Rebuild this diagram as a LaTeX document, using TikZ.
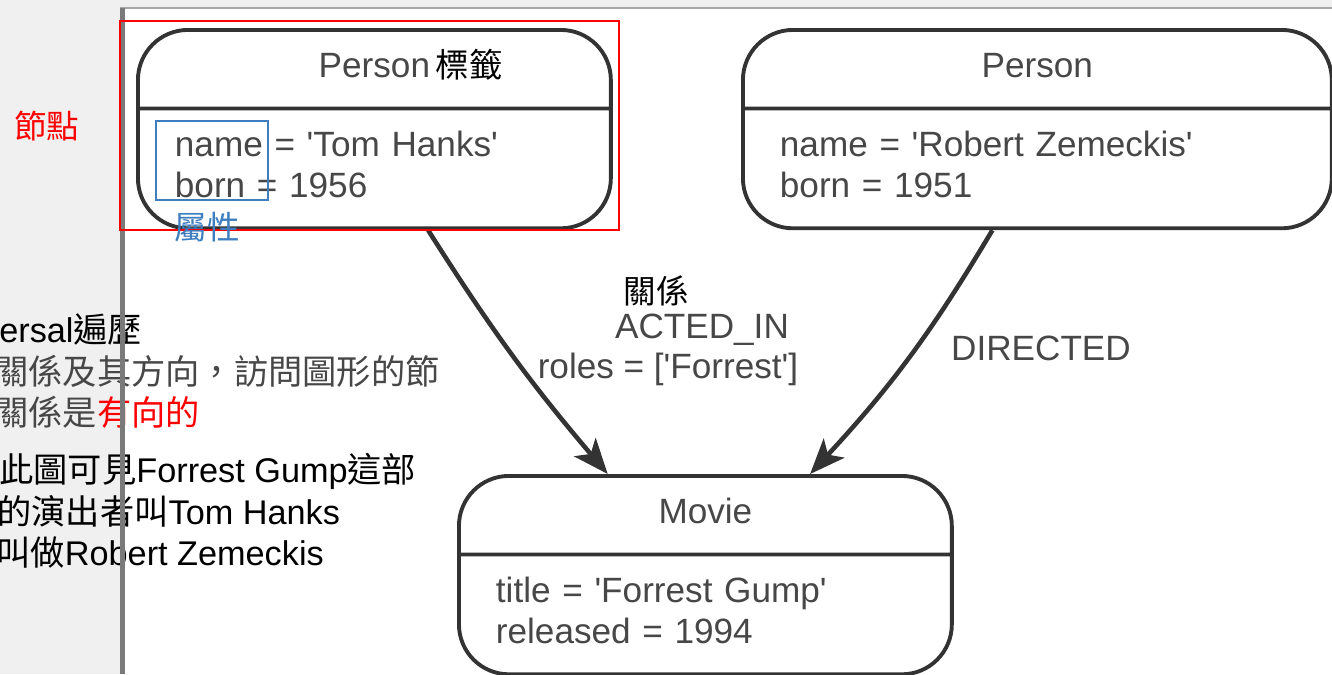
\documentclass[tikz,border=0pt]{standalone}
\usepackage{fontspec}
\setmainfont{Liberation Sans}
\newfontfamily\cjk{Noto Sans CJK TC}
\usetikzlibrary{shapes.multipart,arrows.meta}
\definecolor{ink}{HTML}{333333}
\definecolor{txt}{HTML}{474747}
\definecolor{notebl}{HTML}{3D7DC0}
\definecolor{panelgray}{HTML}{F0F0F0}
\newcommand\sq{\textquotesingle}

\begin{document}
\begin{tikzpicture}[x=0.02cm, y=-0.02cm,
  entity/.style={rectangle split, rectangle split parts=2, draw=ink, line width=2.2pt,
    rounded corners=1cm, fill=white, anchor=north west, inner xsep=0.74cm,
    inner ysep=9.5pt, font=\fontsize{20}{23.5}\selectfont, text=txt},
  lbl/.style={font=\fontsize{20}{23.5}\selectfont, text=txt, inner sep=0pt, anchor=base},
  note/.style={font=\cjk\fontsize{18.5}{22}\selectfont, inner sep=0pt},
  side/.style={font=\fontsize{19.5}{24}\selectfont, anchor=base west, inner sep=0pt},
  rel/.style={draw=ink, line width=2.6pt, -{Stealth[length=20pt, width=16pt, inset=5pt]}}]
						\clip (0,0) rectangle (1332,674);
						\fill[panelgray] (0,0) rectangle (1332,674);
						\fill[white] (122,8) rectangle (1332,674);
						\node[side] (trav) at (-1,342) {ersal{\cjk 遍歷}};
						\node[side, text=black!72] (dir1) at (-6,384) {\cjk 關係及其方向，訪問圖形的節};
						\node[side, text=black!72] (dir2) at (-6,425) {\cjk 關係是\textcolor{red}{有向的}};
						\node[side] (see1) at (-1,482) {{\cjk 此圖可見}Forrest Gump{\cjk 這部}};
						\node[side] (see2) at (-3,524) {{\cjk 的演出者叫}Tom Hanks};
						\node[side] (see3) at (-4,565) {{\cjk 叫做}Robert Zemeckis};
						\draw[black!35, line width=0.04cm] (120,8) -- (1332,8);
						\draw[black!52, line width=0.1cm] (122,8) -- (122,674);
						\node[entity, text width=7.98cm] (tom) at (136,28) {\makebox[\linewidth]{\strut Person\rlap{\,\textcolor{black}{\cjk\fontsize{19}{23}\selectfont 標籤}}}\nodepart{two}\raggedright\strut name = \sq Tom Hanks\sq\\\strut born = 1956};
						\node[entity, text width=10.3cm] (robert) at (741,28) {\makebox[\linewidth]{\strut Person}\nodepart{two}\raggedright\strut name = \sq Robert Zemeckis\sq\\\strut born = 1951};
						\node[entity, text width=8.38cm] (movie) at (457,474) {\makebox[\linewidth]{\strut Movie}\nodepart{two}\raggedright\strut title = \sq Forrest Gump\sq\\\strut released = 1994};
						\draw[rel] (tom.-62.4) to[bend right=4] (movie.134.7);
						\draw[rel] (robert.-114.4) to[bend left=6] (movie.44);
						\node[lbl] (acted) at (702,338) {ACTED\_IN};
						\node[lbl] (roles) at (668,378) {roles = [\sq Forrest\sq]};
						\node[lbl] (directed) at (1041,360) {DIRECTED};
						\draw[red, line width=0.04cm] (120,21) rectangle (619,230);
						\draw[notebl, line width=0.03cm] (156,121) rectangle (268,200);
						\node[note, text=red] (nodenote) at (47,126) {節點};
						\node[note, text=notebl] (propnote) at (207,227) {屬性};
						\node[note] (relnote) at (656,291) {關係};
					\end{tikzpicture}
\end{document}
